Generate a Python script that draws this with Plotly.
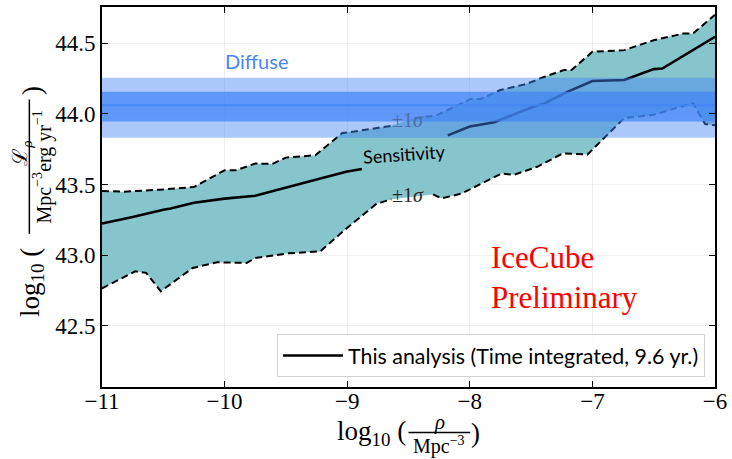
import plotly.graph_objects as go

# ---------------- data ----------------
sens_x = [-11.0, -10.75, -10.5, -10.44, -10.25, -10.0, -9.75, -9.5, -9.25, -9.0, -8.88,
          None,
          -8.18, -8.0, -7.8, -7.5, -7.39, -7.2, -7.0, -6.74, -6.5, -6.43, -6.0]
sens_y = [43.224, 43.27, 43.322, 43.33, 43.371, 43.40, 43.42, 43.475, 43.535, 43.592, 43.61,
          None,
          43.847, 43.91, 43.94, 44.044, 44.075, 44.157, 44.232, 44.239, 44.316, 44.32, 44.544]

upper_x = [-11.0, -10.83, -10.53, -10.25, -10.0, -9.91, -9.75, -9.61, -9.5, -9.26, -9.04, -8.94, -8.64,
           None,
           -8.45, -8.28, -7.99, -7.91, -7.75, -7.54, -7.39, -7.23, -7.17, -7.0, -6.74, -6.5, -6.26, -6.18, -6.0]
upper_y = [43.454, 43.449, 43.463, 43.482, 43.60, 43.60, 43.648, 43.646, 43.69, 43.707, 43.864, 43.875, 43.915,
           None,
           43.97, 43.986, 44.105, 44.105, 44.168, 44.21, 44.262, 44.31, 44.31, 44.438, 44.45, 44.52, 44.567, 44.567, 44.70]

lower_x = [-11.0, -10.73, -10.64, -10.52, -10.26, -10.06, -9.82, -9.75, -9.48, -9.22, -9.02, -8.76, -8.64,
           None,
           -8.30, -8.23, -8.07, -7.74, -7.64, -7.45, -7.24, -7.04, -6.74, -6.5, -6.18, -6.08, -6.0]
lower_y = [42.765, 42.886, 42.875, 42.745, 42.91, 42.95, 42.945, 42.98, 43.013, 43.027, 43.179, 43.364, 43.395,
           None,
           43.43, 43.402, 43.435, 43.578, 43.568, 43.625, 43.72, 43.712, 43.97, 43.993, 44.075, 43.927, 43.918]

diffuse_center = 44.06
diffuse_1sigma = [43.945, 44.155]
diffuse_2sigma = [43.83, 44.255]

x_range = [-11, -6]
y_range = [42.068, 44.755]
x_ticks = [-11, -10, -9, -8, -7, -6]
x_ticktext = ["\u221211", "\u221210", "\u22129", "\u22128", "\u22127", "\u22126"]
y_ticks = [42.5, 43.0, 43.5, 44.0, 44.5]
y_ticktext = ["42.5", "43.0", "43.5", "44.0", "44.5"]

legend_label = "This analysis (Time integrated, 9.6 yr.)"

# ---------------- figure ----------------
W, H = 732, 459
ML, MR, MT, MB = 102, 14, 5, 72
PW, PH = W - ML - MR, H - MT - MB


def P(px, py):
    return (px - ML) / PW, (H - MB - py) / PH


TEAL = "rgb(135,197,205)"
BLUE = "66,133,244"

fig = go.Figure()

# teal band between upper and lower contour
ux = [x for x in upper_x if x is not None]
uy = [y for y in upper_y if y is not None]
lx = [x for x in lower_x if x is not None]
ly = [y for y in lower_y if y is not None]
fig.add_trace(go.Scatter(x=ux + lx[::-1], y=uy + ly[::-1], fill="toself", fillcolor=TEAL,
                         line=dict(width=0), mode="lines", showlegend=False, hoverinfo="skip"))

# dashed +-1 sigma lines
for xs, ys in ((upper_x, upper_y), (lower_x, lower_y)):
    fig.add_trace(go.Scatter(x=xs, y=ys, mode="lines", connectgaps=False,
                             line=dict(color="black", width=2, dash="7px,4px"),
                             showlegend=False, hoverinfo="skip"))

# sensitivity line
fig.add_trace(go.Scatter(x=sens_x, y=sens_y, mode="lines", connectgaps=False,
                         line=dict(color="black", width=2.6), name=legend_label))

# diffuse bands (drawn on top, semi transparent)
x0, x1 = x_range
fig.add_trace(go.Scatter(x=[x0, x1, x1, x0], y=[diffuse_2sigma[0]] * 2 + [diffuse_2sigma[1]] * 2,
                         fill="toself", fillcolor=f"rgba({BLUE},0.45)", line=dict(width=0),
                         mode="lines", showlegend=False, hoverinfo="skip"))
fig.add_trace(go.Scatter(x=[x0, x1, x1, x0], y=[diffuse_1sigma[0]] * 2 + [diffuse_1sigma[1]] * 2,
                         fill="toself", fillcolor=f"rgba({BLUE},0.72)", line=dict(width=0),
                         mode="lines", showlegend=False, hoverinfo="skip"))
fig.add_trace(go.Scatter(x=[x0, x1], y=[diffuse_center] * 2, mode="lines",
                         line=dict(color=f"rgba({BLUE},0.9)", width=2),
                         showlegend=False, hoverinfo="skip"))

SANS = "Lato"
SERIF = "Liberation Serif"

ann = []
# text labels in data coords
ann.append(dict(x=-9.736, y=44.37, xref="x", yref="y", text="Diffuse", showarrow=False,
                font=dict(family=SANS, size=20, color="rgb(74,134,240)")))
ann.append(dict(x=-8.535, y=43.714, xref="x", yref="y", text="Sensitivity", showarrow=False,
                textangle=-4, font=dict(family=SANS, size=18, color="black")))
ann.append(dict(x=-8.503, y=43.959, xref="x", yref="y", text="\u00b11<i>\u03c3</i>", showarrow=False,
                font=dict(family=SERIF, size=20, color="rgb(80,110,165)")))
ann.append(dict(x=-8.503, y=43.429, xref="x", yref="y", text="\u00b11<i>\u03c3</i>", showarrow=False,
                font=dict(family=SERIF, size=20, color="rgb(40,40,40)")))
ann.append(dict(x=-7.84, y=42.842, xref="x", yref="y", text="IceCube<br>Preliminary", showarrow=False,
                xanchor="left", yanchor="middle", align="left",
                font=dict(family=SERIF, size=31, color="red")))

# axis titles built from pieces
def pa(px, py, text, size, xanchor="center", yanchor="middle", angle=0):
    x, y = P(px, py)
    return dict(x=x, y=y, xref="paper", yref="paper", text=text, showarrow=False,
                xanchor=xanchor, yanchor=yanchor, textangle=angle,
                font=dict(family=SERIF, size=size, color="black"))

ann.append(pa(409, 433, "log<sub>10</sub> (", 27, xanchor="right"))
ann.append(pa(441, 422, "<i>\u03c1</i>", 21))
ann.append(pa(441, 446, "Mpc<sup>\u22123</sup>", 20))
ann.append(pa(471, 433, ")", 27, xanchor="left"))

ann.append(pa(31, 282, "log<sub>10</sub> (", 27, angle=-90))
ann.append(pa(21, 152, "\u2112<sub><i>\u03c1</i></sub>", 21, angle=-90))
ann.append(pa(42, 166, "Mpc<sup>\u22123</sup>erg yr<sup>\u22121</sup>", 20, angle=-90))
ann.append(pa(31, 89, ")", 27, angle=-90))

shapes = []
bx0, by0 = P(410, 432.7)
bx1, by1 = P(472, 432.7)
shapes.append(dict(type="line", xref="paper", yref="paper", x0=bx0, y0=by0, x1=bx1, y1=by1,
                   line=dict(color="black", width=1.5)))
vx0, vy0 = P(29, 98)
vx1, vy1 = P(29, 233)
shapes.append(dict(type="line", xref="paper", yref="paper", x0=vx0, y0=vy0, x1=vx1, y1=vy1,
                   line=dict(color="black", width=1.5)))

GRID = "rgba(220,220,220,0.45)"
TICKFONT = dict(family=SERIF, size=23, color="black")
axis_common = dict(showline=True, linecolor="black", linewidth=2, mirror="ticks",
                   ticks="inside", ticklen=6, tickwidth=1, tickcolor="black",
                   showgrid=True, gridcolor=GRID, gridwidth=1, zeroline=False,
                   layer="above traces")

fig.update_layout(
    width=W, height=H,
    margin=dict(l=ML, r=MR, t=MT, b=MB),
    paper_bgcolor="white", plot_bgcolor="white",
    font=dict(family=SERIF, size=23, color="black"),
    xaxis=dict(range=x_range, tickvals=x_ticks, ticktext=x_ticktext, ticklabelstandoff=-8,
               tickfont=TICKFONT, **axis_common),
    yaxis=dict(range=y_range, tickvals=y_ticks, ticktext=y_ticktext,
               tickfont=TICKFONT, **axis_common),
    showlegend=True,
    legend=dict(x=P(708, 0)[0], y=P(0, 377)[1], xanchor="right", yanchor="bottom",
                itemwidth=60,
                bgcolor="rgba(255,255,255,0.85)", bordercolor="rgb(210,210,210)", borderwidth=1,
                font=dict(family=SANS, size=21.4, color="black")),
    annotations=ann,
    shapes=shapes,
)

fig.write_html("out.html", config={"displayModeBar": False},
               post_script="document.body.style.margin='0';document.body.style.padding='0';")
